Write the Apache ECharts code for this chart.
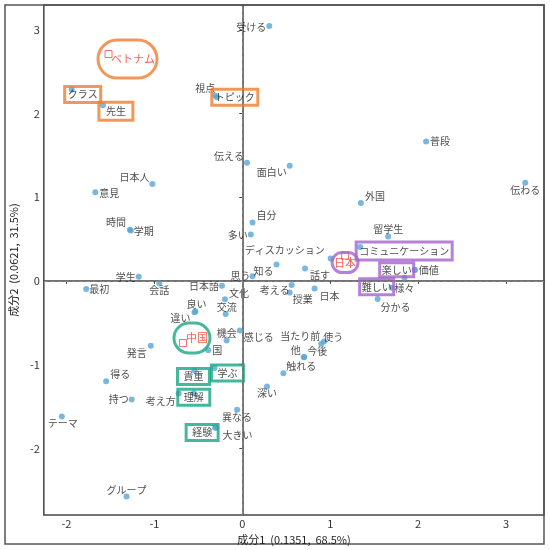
<!DOCTYPE html>
<html lang="ja">
<head>
<meta charset="UTF-8">
<title>対応分析</title>
<script src="https://cdn.jsdelivr.net/npm/echarts@6/dist/echarts.min.js"></script>
<style>
  html, body { margin: 0; padding: 0; background: #fff; }
  #chart { width: 550px; height: 550px; }
</style>
</head>
<body>
<div id="chart"></div>
<script>
// 語（青い点）
const words = ['受ける', 'クラス', '先生', '視点', 'トピック', '伝える', '面白い', '日本人', '意見', '普段',
    '伝わる', '外国', '自分', '多い', '留学生', '時間', '学期', 'ディスカッション', '知る', '思う',
    '学生', '最初', '会話', '日本語', '文化', '考える', '授業', '話す', '日本', 'コミュニケーション',
    '楽しい', '価値', '様々', '難しい', '分かる', '当たり前', '使う', '他', '今後', '触れる',
    '良い', '違い', '交流', '機会', '感じる', '国', '発言', '得る', '持つ', 'テーマ',
    '考え方', '貴重', '学ぶ', '理解', '経験', '大きい', '深い', '異なる', 'グループ'];
const wordX = [0.307, -1.941, -1.586, -0.309, -0.290, 0.053, 0.539, -1.023, -1.672, 2.091,
    3.219, 1.349, 0.116, 0.097, 1.659, -1.278, -1.269, 1.005, 0.389, 0.116,
    -1.179, -1.776, -0.944, -0.231, -0.197, 0.561, 0.539, 0.713, 0.822, 1.341,
    1.961, 1.963, 1.845, 1.699, 1.539, 0.897, 0.931, 0.699, 0.705, 0.467,
    -0.533, -0.544, -0.189, -0.178, -0.029, -0.388, -1.041, -1.549, -1.258, -2.053,
    -0.724, -0.544, -0.317, -0.552, -0.309, -0.304, 0.281, -0.059, -1.317];
const wordY = [3.046, 2.286, 2.100, 2.215, 2.195, 1.411, 1.375, 1.158, 1.059, 1.665,
    1.173, 0.932, 0.698, 0.556, 0.532, 0.612, 0.603, 0.267, 0.196, 0.057,
    0.050, -0.097, -0.030, -0.057, -0.220, -0.050, -0.137, 0.148, -0.089, 0.406,
    0.133, 0.131, 0.038, -0.081, -0.216, -0.751, -0.722, -0.912, -0.909, -1.102,
    -0.366, -0.374, -0.394, -0.710, -0.591, -0.829, -0.774, -1.197, -1.416, -1.618,
    -1.344, -1.069, -1.039, -1.342, -1.751, -1.755, -1.261, -1.538, -2.575];

// 国（赤い四角）
const groups = ['ベトナム', '中国', '日本'];
const groupX = [-1.522, -0.675, 1.169];
const groupY = [2.710, -0.742, 0.303];

const xTicks = [-2, -1, 0, 1, 2, 3];
const yTicks = [-2, -1, 0, 1, 2, 3];
const xName = '成分1  (0.1351,  68.5%)';
const yName = '成分2  (0.0621,  31.5%)';

const FONT = '"Noto Sans CJK JP", "Noto Sans", sans-serif';
const colors = { orange: '#f07d2e', green: '#17a683', purple: '#a462cf' };

// ラベルの置き方 [position, dx, dy]
const place = {
    '受ける': ['left', 0, 1], '視点': ['left', 3, -7], '伝える': ['left', 0, -7], '面白い': ['left', 0, 6],
    '日本人': ['left', 0, -7], '意見': ['right', 1, 1], '普段': ['right', 1, 0], '伝わる': ['inside', 0, 7],
    '外国': ['right', 1, -7], '自分': ['right', 1, -7], '多い': ['left', 0, 1], '留学生': ['inside', 0, -7],
    '時間': ['left', -1, -7], '学期': ['right', 0, 1], 'ディスカッション': ['left', -3, -8], '知る': ['left', 0, 7],
    '思う': ['left', 1, 0], '学生': ['left', 0, 0], '最初': ['right', 0, 0], '会話': ['inside', 0, 7],
    '日本語': ['left', 0, 0], '文化': ['right', 1, -6], '考える': ['left', 1, 5], '授業': ['right', 0, 7],
    '話す': ['right', 2, 7], '日本': ['right', 2, 8], '価値': ['right', 1, 0], '様々': ['inside', 0, 10],
    '分かる': ['right', 0, 8], '当たり前': ['left', 2, -8], '使う': ['right', -4, -4], '他': ['left', 0, -7],
    '今後': ['right', 0, -6], '触れる': ['right', 0, -7], '良い': ['inside', 1, -7], '違い': ['left', -1, 6],
    '交流': ['inside', 1, -7], '機会': ['inside', 0, -7], '感じる': ['right', 1, 7], '国': ['right', 1, 0],
    '発言': ['left', -1, 7], '得る': ['right', 1, -7], '持つ': ['left', 0, 0], 'テーマ': ['inside', 1, 7],
    '考え方': ['left', 0, 8], '大きい': ['right', 4, 7], '深い': ['inside', 0, 7], '異なる': ['inside', 0, 8],
    'グループ': ['inside', 0, -6],
    // 囲み付き
    'クラス': ['inside', 11, 5], '先生': ['inside', 13, 6], 'トピック': ['inside', 18, 0],
    '貴重': ['inside', -1, 6], '学ぶ': ['inside', 13, 5], '理解': ['inside', 0, 4], '経験': ['inside', -13, 5],
    'コミュニケーション': ['inside', 44, 4], '楽しい': ['inside', -18, 0], '難しい': ['inside', -15, -1]
};
// 四角の囲み [色, padding]
const boxed = {
    'クラス': ['orange', [2, 3]], '先生': ['orange', [3, 7]], 'トピック': ['orange', [2, 3]],
    '貴重': ['green', [2, 6]], '学ぶ': ['green', [2, 6]], '理解': ['green', [2, 6]], '経験': ['green', [2, 6]],
    'コミュニケーション': ['purple', [3, 3]], '楽しい': ['purple', [1, 2]], '難しい': ['purple', [2, 2]]
};
// 丸い囲み [position, dx, dy, 色, padding, radius]
const circled = {
    'ベトナム': ['inside', 19, 5, 'orange', [18, 2, 8, 13], 22],
    '中国': ['inside', 9, -5, 'green', [7, 2, 11, 12], 17],
    '日本': ['inside', 0, 7, 'purple', [4, 2], 12]
};

function wordLabel(name) {
    const p = place[name] || ['right', 0, 0];
    const lab = { position: p[0], distance: 0, offset: [p[1], p[2]] };
    const b = boxed[name];
    if (b) {
        lab.borderColor = colors[b[0]];
        lab.borderWidth = 3;
        lab.padding = b[1];
    }
    return lab;
}

const wordData = words.map((w, i) => ({ name: w, value: [wordX[i], wordY[i]], label: wordLabel(w) }));
const groupData = groups.map((g, i) => {
    const c = circled[g];
    return {
        name: g, value: [groupX[i], groupY[i]],
        label: {
            position: c[0], offset: [c[1], c[2]], borderColor: colors[c[3]],
            borderWidth: 3, padding: c[4], borderRadius: c[5]
        }
    };
});

const chart = echarts.init(document.getElementById('chart'));
chart.setOption({
    animation: false,
    textStyle: { fontFamily: FONT },
    grid: { left: 36, right: 6, top: 5, bottom: 32, show: true, borderColor: '#444', borderWidth: 1.5 },
    graphic: [{
        type: 'rect', shape: { x: 5, y: 5, width: 539, height: 539 },
        style: { fill: 'none', stroke: '#555', lineWidth: 1.5 }, silent: true
    }],
    xAxis: {
        type: 'value', min: -2.258, max: 3.432,
        name: xName, nameLocation: 'middle', nameGap: 15,
        nameTextStyle: { fontSize: 11, color: '#222', fontFamily: FONT },
        axisLine: { show: true, lineStyle: { color: '#444', width: 1.5 } },
        axisTick: { show: true, length: 3, lineStyle: { color: '#444' }, customValues: xTicks },
        axisLabel: { fontSize: 11, color: '#333', margin: 3, customValues: xTicks, fontFamily: FONT },
        splitLine: { show: false }
    },
    yAxis: {
        type: 'value', min: -2.797, max: 3.296,
        name: yName, nameLocation: 'middle', nameGap: 17, nameRotate: 90,
        nameTextStyle: { fontSize: 11, color: '#222', fontFamily: FONT },
        axisLine: { show: true, lineStyle: { color: '#444', width: 1.5 } },
        axisTick: { show: true, length: 3, lineStyle: { color: '#444' }, customValues: yTicks },
        axisLabel: { fontSize: 11, color: '#333', margin: 4, customValues: yTicks, fontFamily: FONT },
        splitLine: { show: false }
    },
    series: [
        {
            type: 'scatter', name: 'words', data: wordData,
            symbol: 'circle', symbolSize: 6, silent: true,
            itemStyle: { color: '#58a6d6' },
            label: { show: true, formatter: '{b}', fontSize: 10, lineHeight: 12, color: '#1a1a1a', fontFamily: FONT },
            markLine: {
                silent: true, symbol: 'none', label: { show: false },
                lineStyle: { color: '#888', type: [4, 3], width: 1 },
                data: [{ xAxis: 0 }, { yAxis: 0 }]
            },
            z: 3
        },
        {
            type: 'scatter', name: 'groups', data: groupData,
            symbol: 'rect', symbolSize: 7, silent: true,
            itemStyle: { color: 'rgba(255,255,255,0)', borderColor: '#f04b3a', borderWidth: 1 },
            label: { show: true, formatter: '{b}', fontSize: 11, lineHeight: 12, color: '#f03a2a', fontFamily: FONT },
            z: 4
        }
    ]
});
</script>
</body>
</html>
